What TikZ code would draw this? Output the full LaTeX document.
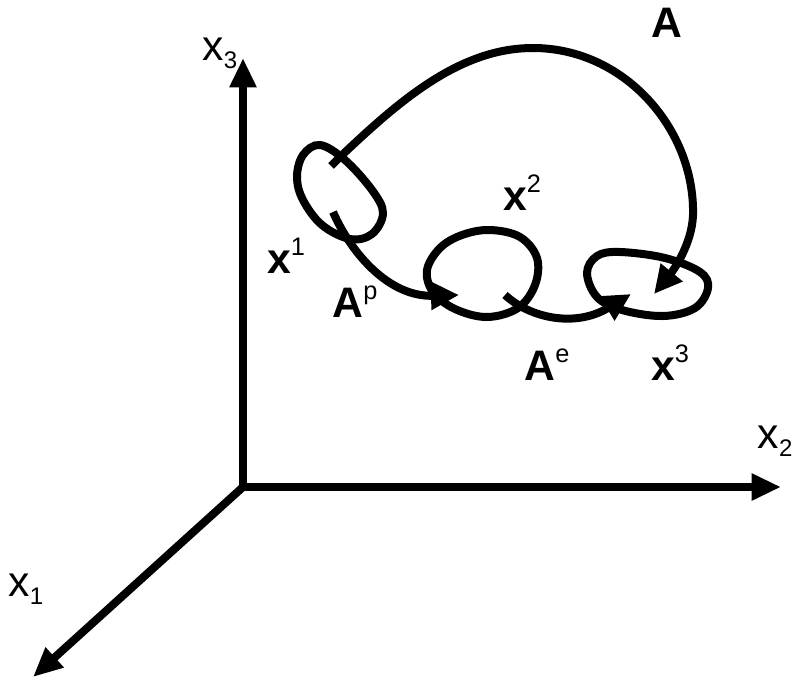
\documentclass[tikz,border=0pt]{standalone}
\usepackage{fontspec}
\setmainfont{Liberation Sans}
\usetikzlibrary{arrows.meta}
\tikzset{
  thick line/.style={line width=6pt},
  axis line/.style={line width=6pt,-{Triangle[length=22pt,width=19pt]}},
  path arrow/.style={thick line,-{Triangle[length=21pt,width=20pt]}},
  big label/.style={font=\fontsize{32}{32}\selectfont\bfseries,inner sep=0pt,anchor=base},
  axis label/.style={font=\fontsize{32}{32}\selectfont,inner sep=0pt,anchor=base},
}
\newcommand{\supfont}{\fontsize{19}{19}\selectfont\mdseries}
\newcommand{\subfont}{\fontsize{18}{18}\selectfont}
\begin{document}
\begin{tikzpicture}[x=0.75pt,y=-0.75pt]
        \useasboundingbox (0,0) rectangle (795,682);
        % Axes
        \coordinate (O) at (243,487);
        \coordinate (E1) at (33,677);
        \coordinate (E2) at (781,487);
        \coordinate (E3) at (243,58);
        \draw[axis line] (O)--(E3);
        \draw[axis line] (O)--(E2);
        \draw[axis line] (O)--(E1);
        \node[axis label] (x1) at (26,596) {x\raisebox{-6pt}{\subfont 1}};
        \node[axis label] (x2) at (775,448) {x\raisebox{-6pt}{\subfont 2}};
        \node[axis label] (x3) at (220,60) {x\raisebox{-6pt}{\subfont 3}};

        % Loops through the three states
        \draw[thick line] plot[smooth cycle,tension=0.6] coordinates
          {(320,145) (345,160) (372,190) (383,213) (372,234) (350,239) (322,225) (303,200) (297,177) (303,155)};
        \draw[thick line] plot[smooth cycle,tension=0.6] coordinates
          {(490,230) (520,237) (537,258) (535,285) (518,308) (487,317) (455,309) (433,292) (427,270) (440,248) (462,235)};
        \draw[thick line] plot[smooth cycle,tension=0.6] coordinates
          {(620,252) (665,258) (700,272) (708,288) (695,308) (663,316) (622,310) (597,297) (587,273) (597,256)};

        % Arrows between the states
        \coordinate (T1) at (331,166);
        \coordinate (T2) at (654,294);
        \draw[path arrow] (T1)--(340,157) .. controls (400,100) and (460,48) .. (533,48)
          .. controls (625,48) and (695,130) .. (693,215)
          .. controls (692,245) and (672,272) .. (T2);
        \coordinate (P1) at (333,212);
        \coordinate (P2) at (459,295);
        \draw[path arrow] (P1) .. controls (352,255) and (390,297) .. (P2);
        \coordinate (Q1) at (505,295);
        \coordinate (Q2) at (631,294);
        \draw[path arrow] (Q1) .. controls (530,318) and (575,328) .. (Q2);

        % Labels
        \node[big label] (A) at (667,37) {A};
        \node[big label] (s1) at (286,273) {x\raisebox{13pt}{\supfont 1}};
        \node[big label] (s2) at (522,210) {x\raisebox{13pt}{\supfont 2}};
        \node[big label] (s3) at (670,380) {x\raisebox{13pt}{\supfont 3}};
        \node[big label] (Ap) at (355,317) {A\raisebox{13pt}{\supfont p}};
        \node[big label] (Ae) at (547,380) {A\raisebox{13pt}{\supfont e}};
\end{tikzpicture}
\end{document}
